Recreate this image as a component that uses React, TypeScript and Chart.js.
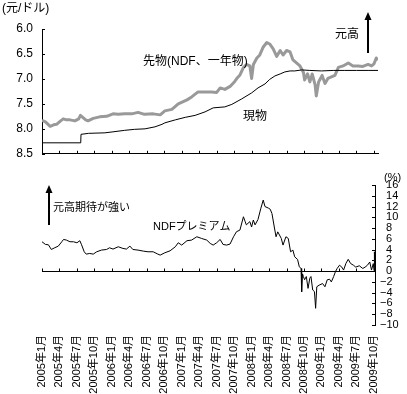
import React, { useEffect, useRef } from "react";
import { Chart, registerables } from "chart.js";

Chart.register(...registerables);

const FONT = "'Liberation Sans', 'Noto Sans CJK JP', sans-serif";
const NARROW = "'Liberation Sans Narrow', 'Liberation Sans', 'Noto Sans CJK JP', sans-serif";

// x positions: months since 2005年1月
const monthLabels = [
  "2005年1月", "2005年4月", "2005年7月", "2005年10月",
  "2006年1月", "2006年4月", "2006年7月", "2006年10月",
  "2007年1月", "2007年4月", "2007年7月", "2007年10月",
  "2008年1月", "2008年4月", "2008年7月", "2008年10月",
  "2009年1月", "2009年4月", "2009年7月", "2009年10月",
];

const rateTicks = [6.0, 6.5, 7.0, 7.5, 8.0, 8.5];
const premTicks = [-10, -8, -6, -4, -2, 0, 2, 4, 6, 8, 10, 12, 14, 16];

// 先物 (NDF, 1 year)
const ndfX = [0, 0.6, 1.4, 2.0, 2.5, 3.2, 3.65, 4.2, 4.8, 5.65, 6.3, 6.6, 7.1, 7.5, 7.9, 8.8, 9.9, 11.1, 12.2, 13.1, 14.2, 15.4, 16.5, 17.6, 19.1, 20.3, 21.1, 22.3, 23.4, 24.9, 25.7, 26.8, 28.0, 29.1, 30.0, 30.6, 31.4, 32.3, 33.1, 33.6, 34.0, 34.6, 35.1, 35.7, 36.0, 36.3, 36.9, 37.4, 38.0, 38.6, 39.1, 39.7, 40.3, 40.9, 41.4, 42.0, 42.6, 43.1, 43.7, 44.3, 44.9, 45.1, 45.6, 46.0, 46.4, 46.9, 47.1, 47.5, 48.1, 48.6, 49.1, 49.7, 50.3, 50.9, 51.7, 52.6, 53.4, 54.3, 55.1, 56.0, 56.6, 57.0, 57.4, 57.7];
const ndfY = [7.83, 7.86, 7.95, 7.92, 7.91, 7.84, 7.80, 7.82, 7.82, 7.84, 7.80, 7.73, 7.78, 7.82, 7.84, 7.79, 7.76, 7.75, 7.70, 7.71, 7.70, 7.70, 7.67, 7.71, 7.70, 7.72, 7.64, 7.61, 7.50, 7.42, 7.36, 7.26, 7.26, 7.26, 7.27, 7.18, 7.21, 7.15, 7.05, 6.97, 6.92, 6.77, 6.71, 6.74, 6.99, 6.71, 6.58, 6.52, 6.36, 6.27, 6.30, 6.40, 6.55, 6.43, 6.52, 6.43, 6.46, 6.62, 6.68, 6.74, 6.87, 7.02, 6.90, 7.06, 6.90, 7.12, 7.34, 7.06, 6.93, 7.09, 6.99, 6.96, 6.93, 6.77, 6.74, 6.68, 6.74, 6.74, 6.75, 6.71, 6.74, 6.70, 6.58, 6.62];

// 現物 (spot)
const spotX = [0, 6.65, 6.7, 8.0, 10.8, 12.2, 14.2, 15.9, 17.7, 19.4, 20.6, 21.1, 22.9, 24.6, 26.3, 28.0, 29.4, 31.4, 32.6, 34.3, 36.0, 37.1, 38.3, 39.1, 40.0, 40.9, 41.7, 42.6, 43.4, 44.6, 46.0, 48.0, 50.0, 52.0, 54.0, 56.0, 57.7];
const spotY = [8.28, 8.28, 8.11, 8.09, 8.08, 8.06, 8.03, 8.01, 8.00, 7.96, 7.91, 7.88, 7.82, 7.77, 7.73, 7.66, 7.58, 7.56, 7.51, 7.40, 7.28, 7.18, 7.10, 7.01, 6.94, 6.90, 6.86, 6.84, 6.84, 6.82, 6.83, 6.84, 6.83, 6.83, 6.83, 6.83, 6.83];

// NDFプレミアム (%)
const premX = [0, 0.6, 1.1, 1.6, 2.2, 2.8, 3.4, 3.7, 4.2, 4.8, 5.4, 6.0, 6.5, 6.8, 7.25, 7.6, 8.2, 8.8, 9.4, 10.2, 11.1, 11.6, 12.2, 13.1, 13.9, 14.5, 15.1, 15.6, 16.5, 17.4, 18.2, 19.1, 19.9, 20.3, 21.1, 22.0, 22.9, 23.4, 24.0, 24.9, 25.7, 26.6, 27.4, 28.3, 28.9, 29.4, 30.0, 30.6, 31.1, 31.7, 32.3, 32.9, 33.4, 34.0, 34.6, 34.9, 35.1, 35.7, 36.0, 36.3, 36.6, 37.1, 37.6, 38.0, 38.3, 38.9, 39.2, 39.5, 39.9, 40.2, 40.5, 41.1, 41.4, 41.9, 42.3, 42.7, 43.1, 43.4, 43.9, 44.2, 44.5, 44.6, 44.75, 44.9, 45.1, 45.4, 45.7, 46.0, 46.2, 46.5, 46.8, 47.0, 47.2, 47.6, 48.2, 48.6, 49.0, 49.4, 49.7, 50.1, 50.4, 50.7, 51.1, 51.5, 51.8, 52.2, 52.6, 53.0, 53.5, 53.9, 54.5, 55.1, 55.5, 55.9, 56.3, 56.6, 56.9, 57.05, 57.1, 57.2];
const premY = [5.46, 4.96, 4.9, 4.03, 4.35, 4.65, 5.46, 5.89, 5.77, 5.46, 5.46, 5.27, 5.65, 4.9, 3.6, 3.16, 3.29, 3.16, 3.6, 3.91, 4.03, 4.34, 4.1, 4.53, 4.22, 4.1, 4.65, 4.03, 3.91, 3.72, 3.6, 3.6, 3.16, 2.98, 3.41, 3.78, 4.53, 5.27, 4.84, 5.65, 5.77, 6.39, 6.08, 5.77, 5.15, 4.84, 5.27, 5.89, 4.96, 4.84, 5.03, 6.39, 7.32, 7.63, 10.1, 9.2, 8.6, 9.2, 8.2, 9.5, 8.6, 9.6, 11.7, 13.2, 12.0, 11.7, 11.5, 10.7, 8.2, 6.39, 7.3, 6.08, 4.84, 6.39, 6.08, 3.6, 3.9, 2.67, 2.17, 0.8, 0.5, -3.84, -0.5, -1.0, -1.6, -1.0, -3.2, -1.3, -1.0, -3.5, -3.8, -6.9, -2.9, -2.6, -2.3, -2.9, -1.6, -1.5, -2.0, -1.0, -0.1, 0.5, 1.1, 0.75, 0.2, 1.43, 2.2, 1.43, 1.1, 0.75, 1.0, 0.5, 0.75, 1.1, 1.7, 0.2, 1.4, 0.1, 3.6, 0.8];

const toPoints = (xs: number[], ys: number[]) => xs.map((x, i) => ({ x, y: ys[i] }));
const monthTicks = () => monthLabels.map((_, i) => ({ value: i * 3 }));

function drawArrow(ctx: CanvasRenderingContext2D, x: number, yBottom: number, yTop: number) {
  ctx.save();
  ctx.strokeStyle = "#000";
  ctx.fillStyle = "#000";
  ctx.lineWidth = 2;
  ctx.beginPath();
  ctx.moveTo(x, yBottom);
  ctx.lineTo(x, yTop + 6);
  ctx.stroke();
  ctx.beginPath();
  ctx.moveTo(x, yTop);
  ctx.lineTo(x - 3.5, yTop + 8);
  ctx.lineTo(x + 3.5, yTop + 8);
  ctx.closePath();
  ctx.fill();
  ctx.restore();
}

const topDeco = {
  id: "topDeco",
  afterDraw(chart: any) {
    const { ctx, chartArea, scales } = chart;
    const xs = scales.x;
    const ys = scales.y;
    ctx.save();
    ctx.strokeStyle = "#000";
    ctx.lineWidth = 1;
    ctx.beginPath();
    for (const t of xs.ticks) {
      const px = Math.round(xs.getPixelForValue(t.value)) + 0.5;
      ctx.moveTo(px, chartArea.bottom);
      ctx.lineTo(px, chartArea.bottom - 3);
    }
    for (const t of ys.ticks) {
      const py = Math.round(ys.getPixelForValue(t.value)) + 0.5;
      ctx.moveTo(chartArea.left, py);
      ctx.lineTo(chartArea.left + 3, py);
    }
    ctx.stroke();
    ctx.fillStyle = "#000";
    ctx.textBaseline = "middle";
    ctx.textAlign = "left";
    ctx.font = `12px ${FONT}`;
    ctx.fillText("(元/ドル)", 2, 9);
    ctx.fillText("先物(NDF、一年物)", 143, 62);
    ctx.fillText("現物", 243, 117);
    ctx.fillText("元高", 335, 35);
    ctx.restore();
    drawArrow(ctx, 368, 53, 12);
  },
};

const bottomDeco = {
  id: "bottomDeco",
  afterDraw(chart: any) {
    const { ctx, chartArea, scales } = chart;
    const xs = scales.x;
    const ys = scales.y;
    const y0 = Math.round(ys.getPixelForValue(0)) + 0.5;
    ctx.save();
    ctx.strokeStyle = "#000";
    ctx.lineWidth = 1;
    ctx.beginPath();
    ctx.moveTo(chartArea.left, y0);
    ctx.lineTo(chartArea.right, y0);
    for (const t of xs.ticks) {
      const px = Math.round(xs.getPixelForValue(t.value)) + 0.5;
      ctx.moveTo(px, y0);
      ctx.lineTo(px, y0 - 3);
    }
    for (const t of ys.ticks) {
      const py = Math.round(ys.getPixelForValue(t.value)) + 0.5;
      ctx.moveTo(chartArea.right, py);
      ctx.lineTo(chartArea.right - 3, py);
    }
    ctx.stroke();
    ctx.fillStyle = "#000";
    ctx.textBaseline = "middle";
    ctx.textAlign = "left";
    ctx.font = `11px ${FONT}`;
    ctx.fillText("元高期待が強い", 53, 38);
    ctx.fillText("NDFプレミアム", 153, 57);
    ctx.fillText("(%)", 384, 8);
    ctx.restore();
    drawArrow(ctx, 49, 55, 15);
  },
};

export default function App() {
  const topRef = useRef<HTMLCanvasElement>(null);
  const botRef = useRef<HTMLCanvasElement>(null);

  useEffect(() => {
    const top = new Chart(topRef.current as HTMLCanvasElement, {
      type: "line",
      data: {
        datasets: [
          {
            label: "現物",
            data: toPoints(spotX, spotY),
            borderColor: "#000000",
            borderWidth: 1,
            pointRadius: 0,
            order: 0,
          },
          {
            label: "先物(NDF、一年物)",
            data: toPoints(ndfX, ndfY),
            borderColor: "#999999",
            borderWidth: 3,
            borderJoinStyle: "round",
            pointRadius: 0,
            order: 1,
          },
        ],
      },
      options: {
        responsive: false,
        animation: false,
        devicePixelRatio: 1,
        events: [],
        layout: { padding: { top: 29, right: 29, left: 0, bottom: 0 } },
        plugins: { legend: { display: false }, tooltip: { enabled: false } },
        scales: {
          x: {
            type: "linear",
            bounds: "data",
            min: 0,
            max: 57.7,
            afterBuildTicks: (s: any) => { s.ticks = monthTicks(); },
            ticks: { display: false },
            grid: { display: false, drawTicks: false },
            border: { display: true, color: "#000", width: 1 },
            afterFit: (s: any) => { s.height = 9; },
          },
          y: {
            type: "linear",
            reverse: true,
            min: 6,
            max: 8.5,
            afterBuildTicks: (s: any) => { s.ticks = rateTicks.map((v) => ({ value: v })); },
            ticks: {
              padding: 9,
              color: "#000",
              autoSkip: false,
              font: { family: FONT, size: 12 },
              callback: (v: any) => Number(v).toFixed(1),
            },
            grid: { display: false, drawTicks: false },
            border: { display: true, color: "#000", width: 1 },
            afterFit: (s: any) => { s.width = 42; },
          },
        },
      } as any,
      plugins: [topDeco],
    });

    const bottom = new Chart(botRef.current as HTMLCanvasElement, {
      type: "line",
      data: {
        datasets: [
          {
            label: "NDFプレミアム",
            data: toPoints(premX, premY),
            borderColor: "#000000",
            borderWidth: 1,
            pointRadius: 0,
          },
        ],
      },
      options: {
        responsive: false,
        animation: false,
        devicePixelRatio: 1,
        events: [],
        layout: { padding: { top: 15, right: 0, left: 42, bottom: 0 } },
        plugins: { legend: { display: false }, tooltip: { enabled: false } },
        scales: {
          x: {
            type: "linear",
            bounds: "data",
            min: 0,
            max: 57.2,
            afterBuildTicks: (s: any) => { s.ticks = monthTicks(); },
            ticks: {
              autoSkip: false,
              minRotation: 90,
              maxRotation: 90,
              padding: 10,
              color: "#000",
              font: { family: FONT, size: 11 },
              callback: (v: any) => monthLabels[Math.round(Number(v) / 3)] ?? "",
            },
            grid: { display: false, drawTicks: false },
            border: { display: false },
            afterFit: (s: any) => { s.height = 69; },
          },
          y: {
            type: "linear",
            position: "right",
            min: -10,
            max: 16,
            afterBuildTicks: (s: any) => { s.ticks = premTicks.map((v) => ({ value: v })); },
            ticks: {
              autoSkip: false,
              padding: 5,
              color: "#000",
              font: { family: NARROW, size: 11 },
              callback: (v: any) => (Number(v) < 0 ? "\u2212" + Math.abs(Number(v)) : "\u2007" + v),
            },
            grid: { display: false, drawTicks: false },
            border: { display: true, color: "#000", width: 1 },
            afterFit: (s: any) => { s.width = 32; },
          },
        },
      } as any,
      plugins: [bottomDeco],
    });

    return () => {
      top.destroy();
      bottom.destroy();
    };
  }, []);

  return (
    <div style={{ position: "absolute", left: 0, top: 0, width: 407, height: 394, background: "#fff" }}>
      <canvas ref={topRef} width={407} height={170} style={{ position: "absolute", left: 0, top: 0 }} />
      <canvas ref={botRef} width={407} height={224} style={{ position: "absolute", left: 0, top: 170 }} />
    </div>
  );
}
